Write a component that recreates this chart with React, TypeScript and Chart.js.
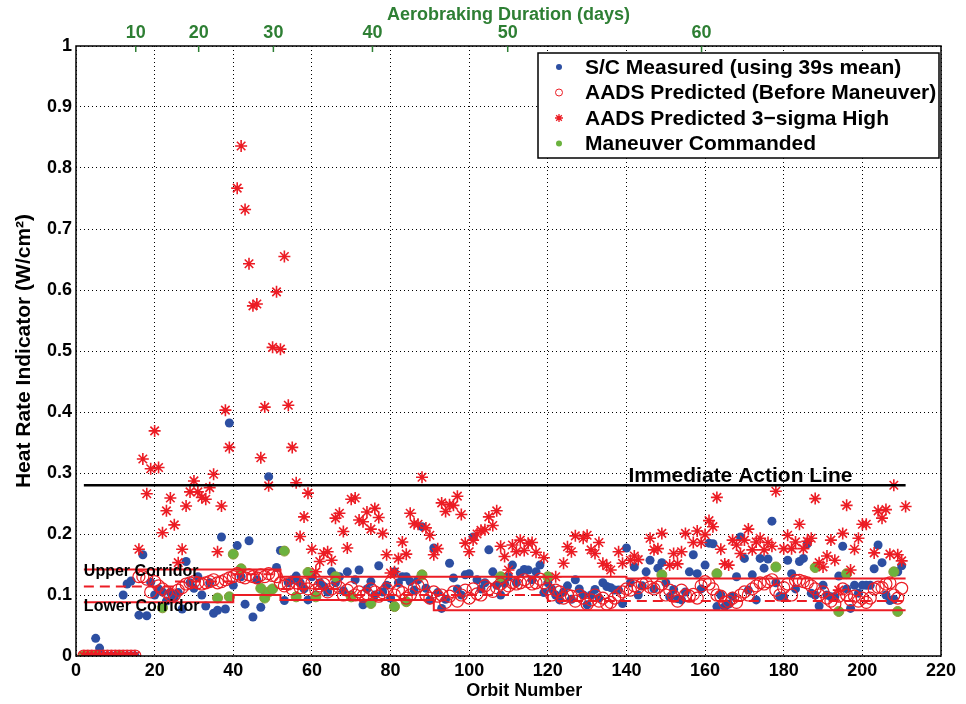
import React, { useEffect, useRef } from "react";
import { Chart, registerables } from "chart.js";

Chart.register(...registerables);

// ---- Data (orbit number, heat rate indicator W/cm^2) ----
const measured: number[][] = [
  [2, 0], [3, 0], [4, 0], [5, 0.029], [6, 0.013], [7, 0], [8, 0], [9, 0], [10, 0], [11, 0], [12, 0], [13, 0], [14, 0], [15, 0],
  [12, 0.1], [13, 0.118], [14, 0.123],
  [16, 0.067], [17, 0.166], [18, 0.066], [19, 0.121], [20, 0.1], [21, 0.11], [22, 0.105], [23, 0.09], [24, 0.104], [25, 0.095],
  [26, 0.104], [27, 0.077], [28, 0.155], [29, 0.12], [30, 0.111], [31, 0.13], [32, 0.1], [33, 0.082], [34, 0.12], [35, 0.07],
  [36, 0.075], [37, 0.195], [38, 0.077], [39, 0.382], [40, 0.116], [41, 0.181], [42, 0.13], [43, 0.085], [44, 0.189], [45, 0.064],
  [46, 0.125], [47, 0.08], [48, 0.098], [49, 0.294], [50, 0.11], [51, 0.145], [52, 0.173], [53, 0.091], [54, 0.12], [55, 0.125],
  [56, 0.131], [57, 0.12], [58, 0.11], [59, 0.092], [60, 0.13], [61, 0.1], [62, 0.12], [63, 0.114], [64, 0.105], [65, 0.138],
  [66, 0.12], [67, 0.13], [68, 0.107], [69, 0.138], [70, 0.1], [71, 0.125], [72, 0.141], [73, 0.084], [74, 0.11], [75, 0.122],
  [76, 0.1], [77, 0.148], [78, 0.105], [79, 0.116], [80, 0.095], [81, 0.138], [82, 0.12], [83, 0.13], [84, 0.13], [85, 0.122],
  [86, 0.108], [87, 0.125], [88, 0.212], [89, 0.111], [90, 0.092], [91, 0.177], [92, 0.104], [93, 0.078], [94, 0.093], [95, 0.152],
  [96, 0.128], [97, 0.11], [98, 0.1], [99, 0.133], [100, 0.135], [101, 0.195], [102, 0.125], [103, 0.11], [104, 0.12], [105, 0.174],
  [106, 0.138], [107, 0.116], [108, 0.1], [109, 0.119], [110, 0.13], [111, 0.149], [112, 0.12], [113, 0.136], [114, 0.142], [115, 0.141],
  [116, 0.125], [117, 0.138], [118, 0.149], [119, 0.104], [120, 0.12], [121, 0.11], [122, 0.1], [123, 0.092], [124, 0.105], [125, 0.115],
  [126, 0.093], [127, 0.125], [128, 0.11], [129, 0.1], [130, 0.084], [131, 0.1], [132, 0.109], [133, 0.095], [134, 0.12], [135, 0.114],
  [136, 0.112], [137, 0.108], [138, 0.108], [139, 0.086], [140, 0.177], [141, 0.12], [142, 0.146], [143, 0.1], [144, 0.115], [145, 0.138],
  [146, 0.157], [147, 0.11], [148, 0.144], [149, 0.153], [150, 0.12], [151, 0.097], [152, 0.109], [153, 0.094], [154, 0.092], [155, 0.105],
  [156, 0.138], [157, 0.166], [158, 0.135], [159, 0.11], [160, 0.149], [161, 0.185], [162, 0.184], [163, 0.081], [164, 0.1], [165, 0.081],
  [166, 0.085], [167, 0.098], [168, 0.13], [169, 0.195], [170, 0.16], [171, 0.108], [172, 0.133], [173, 0.092], [174, 0.16], [175, 0.144],
  [176, 0.159], [177, 0.221], [178, 0.12], [179, 0.098], [180, 0.097], [181, 0.157], [182, 0.135], [183, 0.11], [184, 0.155], [185, 0.16],
  [186, 0.184], [187, 0.103], [188, 0.1], [189, 0.082], [190, 0.116], [191, 0.1], [192, 0.097], [193, 0.097], [194, 0.131], [195, 0.18],
  [196, 0.11], [197, 0.078], [198, 0.116], [199, 0.103], [200, 0.116], [201, 0.116], [202, 0.116], [203, 0.143], [204, 0.182], [205, 0.153],
  [206, 0.1], [207, 0.091], [208, 0.093], [209, 0.138], [210, 0.148],
];

const predicted: number[][] = [
  [2, 0], [3, 0], [4, 0], [5, 0], [6, 0], [7, 0], [8, 0], [9, 0], [10, 0], [11, 0], [12, 0], [13, 0], [14, 0], [15, 0],
  [16, 0.13], [17, 0.13], [18, 0.126], [19, 0.105], [20, 0.122], [21, 0.115], [22, 0.11], [23, 0.105], [24, 0.1], [25, 0.1],
  [26, 0.108], [27, 0.112], [28, 0.118], [29, 0.12], [30, 0.122], [31, 0.12], [32, 0.118], [33, 0.12], [34, 0.122], [35, 0.125],
  [36, 0.12], [37, 0.122], [38, 0.125], [39, 0.128], [40, 0.13], [41, 0.135], [42, 0.13], [43, 0.128], [44, 0.133], [45, 0.13],
  [46, 0.128], [47, 0.133], [48, 0.13], [49, 0.135], [50, 0.132], [51, 0.13], [52, 0.12], [53, 0.115], [54, 0.118], [55, 0.11],
  [56, 0.12], [57, 0.112], [58, 0.118], [59, 0.11], [60, 0.12], [61, 0.108], [62, 0.115], [63, 0.118], [64, 0.105], [65, 0.11],
  [66, 0.12], [67, 0.112], [68, 0.1], [69, 0.108], [70, 0.112], [71, 0.1], [72, 0.105], [73, 0.098], [74, 0.102], [75, 0.11],
  [76, 0.105], [77, 0.098], [78, 0.104], [79, 0.11], [80, 0.12], [81, 0.1], [82, 0.108], [83, 0.104], [84, 0.095], [85, 0.1],
  [86, 0.11], [87, 0.115], [88, 0.118], [89, 0.1], [90, 0.095], [91, 0.105], [92, 0.098], [93, 0.1], [94, 0.088], [95, 0.098],
  [96, 0.105], [97, 0.09], [98, 0.1], [99, 0.108], [100, 0.095], [101, 0.11], [102, 0.102], [103, 0.1], [104, 0.115], [105, 0.11],
  [106, 0.106], [107, 0.112], [108, 0.118], [109, 0.11], [110, 0.115], [111, 0.12], [112, 0.118], [113, 0.12], [114, 0.125], [115, 0.122],
  [116, 0.118], [117, 0.12], [118, 0.126], [119, 0.12], [120, 0.11], [121, 0.1], [122, 0.108], [123, 0.105], [124, 0.095], [125, 0.1],
  [126, 0.098], [127, 0.09], [128, 0.1], [129, 0.095], [130, 0.085], [131, 0.092], [132, 0.1], [133, 0.09], [134, 0.095], [135, 0.085],
  [136, 0.088], [137, 0.095], [138, 0.1], [139, 0.105], [140, 0.11], [141, 0.108], [142, 0.115], [143, 0.112], [144, 0.118], [145, 0.12],
  [146, 0.113], [147, 0.11], [148, 0.113], [149, 0.118], [150, 0.1], [151, 0.108], [152, 0.098], [153, 0.09], [154, 0.108], [155, 0.1],
  [156, 0.098], [157, 0.101], [158, 0.095], [159, 0.115], [160, 0.122], [161, 0.118], [162, 0.11], [163, 0.1], [164, 0.098], [165, 0.088],
  [166, 0.09], [167, 0.095], [168, 0.088], [169, 0.1], [170, 0.105], [171, 0.1], [172, 0.11], [173, 0.115], [174, 0.12], [175, 0.118],
  [176, 0.122], [177, 0.125], [178, 0.108], [179, 0.1], [180, 0.112], [181, 0.118], [182, 0.1], [183, 0.124], [184, 0.124], [185, 0.122],
  [186, 0.12], [187, 0.115], [188, 0.11], [189, 0.1], [190, 0.105], [191, 0.095], [192, 0.09], [193, 0.085], [194, 0.098], [195, 0.11],
  [196, 0.1], [197, 0.092], [198, 0.098], [199, 0.09], [200, 0.095], [201, 0.088], [202, 0.095], [203, 0.11], [204, 0.113], [205, 0.112],
  [206, 0.118], [207, 0.12], [208, 0.1], [209, 0.095], [210, 0.111],
];

const sigmaHigh: number[][] = [
  [2, 0], [3, 0], [4, 0], [5, 0], [6, 0], [7, 0], [8, 0], [9, 0], [10, 0], [11, 0], [12, 0], [13, 0], [14, 0], [15, 0],
  [16, 0.175], [17, 0.323], [18, 0.266], [19, 0.307], [20, 0.369], [21, 0.309], [22, 0.202], [23, 0.238], [24, 0.259], [25, 0.215],
  [26, 0.153], [27, 0.175], [28, 0.246], [29, 0.269], [30, 0.287], [31, 0.269], [32, 0.26], [33, 0.257], [34, 0.276], [35, 0.298],
  [36, 0.171], [37, 0.246], [38, 0.403], [39, 0.342], [41, 0.767], [42, 0.836], [43, 0.732], [44, 0.643], [45, 0.574], [46, 0.577],
  [47, 0.325], [48, 0.408], [49, 0.279], [50, 0.506], [51, 0.597], [52, 0.503], [53, 0.655], [54, 0.411], [55, 0.342], [56, 0.284],
  [57, 0.196], [58, 0.228], [59, 0.267], [60, 0.175], [61, 0.138], [62, 0.155], [63, 0.168], [64, 0.171], [65, 0.157], [66, 0.226],
  [67, 0.234], [68, 0.204], [69, 0.177], [70, 0.257], [71, 0.259], [72, 0.223], [73, 0.22], [74, 0.236], [75, 0.208], [76, 0.242],
  [77, 0.227], [78, 0.201], [79, 0.166], [80, 0.136], [81, 0.138], [82, 0.16], [83, 0.187], [84, 0.167], [85, 0.234], [86, 0.217],
  [87, 0.216], [88, 0.293], [89, 0.21], [90, 0.198], [91, 0.166], [92, 0.176], [93, 0.251], [94, 0.237], [95, 0.248], [96, 0.247],
  [97, 0.262], [98, 0.232], [99, 0.185], [100, 0.171], [101, 0.19], [102, 0.2], [103, 0.206], [104, 0.207], [105, 0.228], [106, 0.214],
  [107, 0.238], [108, 0.18], [109, 0.163], [110, 0.141], [111, 0.182], [112, 0.171], [113, 0.19], [114, 0.173], [115, 0.185], [116, 0.186],
  [117, 0.17], [119, 0.161], [122, 0.13], [124, 0.152], [125, 0.179], [126, 0.171], [127, 0.197], [129, 0.193], [130, 0.198], [131, 0.174],
  [132, 0.168], [133, 0.186], [134, 0.152], [135, 0.148], [136, 0.141], [138, 0.171], [139, 0.152], [141, 0.157], [142, 0.164], [143, 0.158],
  [146, 0.193], [147, 0.174], [148, 0.176], [149, 0.201], [151, 0.149], [152, 0.168], [153, 0.151], [154, 0.171], [155, 0.201], [157, 0.186],
  [158, 0.205], [159, 0.186], [160, 0.199], [161, 0.222], [162, 0.212], [163, 0.26], [164, 0.175], [165, 0.151], [166, 0.149], [167, 0.19],
  [168, 0.182], [169, 0.168], [170, 0.19], [171, 0.208], [172, 0.174], [173, 0.187], [174, 0.193], [175, 0.174], [176, 0.186], [177, 0.18],
  [178, 0.27], [180, 0.176], [181, 0.198], [182, 0.176], [183, 0.187], [184, 0.216], [185, 0.176], [186, 0.188], [187, 0.193], [188, 0.258],
  [189, 0.153], [190, 0.146], [191, 0.164], [192, 0.19], [193, 0.157], [194, 0.108], [195, 0.201], [196, 0.247], [197, 0.141], [198, 0.175],
  [199, 0.193], [200, 0.216], [201, 0.216], [203, 0.169], [204, 0.238], [205, 0.226], [206, 0.24], [207, 0.167], [208, 0.28], [209, 0.166],
  [210, 0.156], [211, 0.245],
];

const maneuvers: number[][] = [
  [2, 0], [4, 0], [5, 0], [11, 0], [22, 0.079], [36, 0.095], [39, 0.097], [40, 0.167], [42, 0.143], [47, 0.111], [48, 0.095],
  [49, 0.105], [50, 0.11], [53, 0.172], [56, 0.097], [59, 0.137], [61, 0.097], [66, 0.13], [70, 0.097], [75, 0.086], [81, 0.081],
  [84, 0.089], [88, 0.133], [108, 0.13], [120, 0.13], [149, 0.133], [163, 0.135], [178, 0.146], [188, 0.145], [194, 0.073],
  [196, 0.135], [208, 0.138], [209, 0.073],
];

// corridor step lines (orbit, value)
const upperCorridorOrbits = [2, 52, 52, 140, 140, 211];
const upperCorridorValues = [0.142, 0.142, 0.13, 0.13, 0.127, 0.127];
const targetOrbits = [2, 25, 25, 40, 40, 52, 52, 68, 68, 120, 120, 211];
const targetValues = [0.114, 0.114, 0.122, 0.122, 0.134, 0.134, 0.11, 0.11, 0.1, 0.1, 0.09, 0.09];
const lowerCorridorOrbits = [2, 40, 40, 52, 52, 91, 91, 211];
const lowerCorridorValues = [0.088, 0.088, 0.1, 0.1, 0.092, 0.092, 0.075, 0.075];
const actionLineOrbits = [2, 211];
const actionLineValues = [0.28, 0.28];

// top axis: aerobraking duration (days) at orbit numbers
const dayTickOrbits = [15.2, 31.2, 50.2, 75.4, 109.8, 159.1];
const dayTickLabels = ["10", "20", "30", "40", "50", "60"];

const legendLabels = [
  "S/C Measured (using 39s mean)",
  "AADS Predicted (Before Maneuver)",
  "AADS Predicted 3\u2212sigma High",
  "Maneuver Commanded",
];

const BLUE = "#2d4fa2";
const RED = "#ec1c24";
const GREEN = "#6bb23e";
const DARKGREEN = "#2e7f34";
const FONT = "'Liberation Sans', Arial, Helvetica, sans-serif";

const toPts = (arr: number[][]) => arr.map(([x, y]) => ({ x, y }));
const zipPts = (xs: number[], ys: number[]) => xs.map((x, i) => ({ x, y: ys[i] }));

function drawStar(ctx: CanvasRenderingContext2D, x: number, y: number, r: number) {
  ctx.beginPath();
  ctx.moveTo(x - r, y); ctx.lineTo(x + r, y);
  ctx.moveTo(x, y - r); ctx.lineTo(x, y + r);
  const d = r * 0.7071;
  ctx.moveTo(x - d, y - d); ctx.lineTo(x + d, y + d);
  ctx.moveTo(x - d, y + d); ctx.lineTo(x + d, y - d);
  ctx.stroke();
}

const decorPlugin = {
  id: "decor",
  afterDraw(chart: any) {
    const { ctx, chartArea: a, scales } = chart;
    const xs = scales.x, ys = scales.y, xt = scales.xTop;
    ctx.save();
    // frame
    ctx.strokeStyle = "#000";
    ctx.lineWidth = 1.5;
    ctx.setLineDash([]);
    ctx.strokeRect(a.left, a.top, a.right - a.left, a.bottom - a.top);
    // green top ticks
    ctx.strokeStyle = DARKGREEN;
    ctx.lineWidth = 1.5;
    dayTickOrbits.forEach((v) => {
      const px = xt.getPixelForValue(v);
      ctx.beginPath();
      ctx.moveTo(px, a.top);
      ctx.lineTo(px, a.top + 6);
      ctx.stroke();
    });
    // bottom axis title
    ctx.fillStyle = "#000";
    ctx.textAlign = "center";
    ctx.textBaseline = "middle";
    ctx.font = `bold 18px ${FONT}`;
    ctx.fillText("Orbit Number", xs.getPixelForValue(114), a.bottom + 35);
    // annotations
    ctx.textBaseline = "alphabetic";
    ctx.textAlign = "left";
    ctx.font = `bold 21px ${FONT}`;
    ctx.fillText("Immediate Action Line", xs.getPixelForValue(140.5), ys.getPixelForValue(0.285));
    ctx.font = `bold 16px ${FONT}`;
    ctx.fillText("Upper Corridor", xs.getPixelForValue(2), ys.getPixelForValue(0.131));
    ctx.fillText("Lower Corridor", xs.getPixelForValue(2), ys.getPixelForValue(0.074));
    // legend
    const lw = 401, lh = 105;
    const lx = a.right - 2 - lw, ly = a.top + 7;
    ctx.fillStyle = "#fff";
    ctx.fillRect(lx, ly, lw, lh);
    ctx.strokeStyle = "#000";
    ctx.lineWidth = 1.5;
    ctx.strokeRect(lx, ly, lw, lh);
    ctx.font = `bold 21px ${FONT}`;
    ctx.textBaseline = "middle";
    legendLabels.forEach((label, i) => {
      const cy = ly + 14 + i * 25.5;
      const mx = lx + 21;
      ctx.lineWidth = 1;
      if (i === 0 || i === 3) {
        ctx.fillStyle = i === 0 ? BLUE : GREEN;
        ctx.beginPath();
        ctx.arc(mx, cy, 3, 0, Math.PI * 2);
        ctx.fill();
      } else if (i === 1) {
        ctx.strokeStyle = RED;
        ctx.beginPath();
        ctx.arc(mx, cy, 3.5, 0, Math.PI * 2);
        ctx.stroke();
      } else {
        ctx.strokeStyle = RED;
        ctx.lineWidth = 1.3;
        drawStar(ctx, mx, cy, 4);
      }
      ctx.fillStyle = "#000";
      ctx.fillText(label, lx + 47, cy + 1);
    });
    ctx.restore();
  },
};

export default function App() {
  const ref = useRef<HTMLCanvasElement>(null);
  useEffect(() => {
    if (!ref.current) return;
    Chart.defaults.font.family = FONT;
    const lineDs = (label: string, xs: number[], ys: number[], color: string, width: number, dash: number[] = []) => ({
      label,
      data: zipPts(xs, ys),
      showLine: true,
      borderColor: color,
      borderWidth: width,
      borderDash: dash,
      pointRadius: 0,
      fill: false,
      order: 0,
    });
    const chart = new Chart(ref.current, {
      type: "scatter",
      data: {
        datasets: [
          lineDs("Immediate Action Line", actionLineOrbits, actionLineValues, "#000", 2.5),
          lineDs("Upper Corridor", upperCorridorOrbits, upperCorridorValues, RED, 2),
          lineDs("Target", targetOrbits, targetValues, RED, 2, [10, 6]),
          lineDs("Lower Corridor", lowerCorridorOrbits, lowerCorridorValues, RED, 2),
          {
            label: legendLabels[2],
            data: toPts(sigmaHigh),
            pointStyle: "star",
            pointRadius: 6,
            borderColor: RED,
            backgroundColor: RED,
            borderWidth: 1.6,
            order: 1,
          },
          {
            label: legendLabels[1],
            data: toPts(predicted),
            pointStyle: "circle",
            pointRadius: 6,
            borderColor: RED,
            backgroundColor: "rgba(0,0,0,0)",
            borderWidth: 1.2,
            order: 2,
          },
          {
            label: legendLabels[3],
            data: toPts(maneuvers),
            pointStyle: "circle",
            pointRadius: 5,
            borderColor: "#8a9a36",
            backgroundColor: GREEN,
            borderWidth: 1,
            order: 3,
          },
          {
            label: legendLabels[0],
            data: toPts(measured),
            pointStyle: "circle",
            pointRadius: 4.5,
            borderColor: BLUE,
            backgroundColor: BLUE,
            borderWidth: 0,
            order: 4,
          },
        ],
      },
      options: {
        responsive: false,
        animation: false,
        events: [],
        layout: { padding: { left: 0, right: 25, top: 0, bottom: 0 } },
        plugins: { legend: { display: false }, tooltip: { enabled: false } },
        scales: {
          x: {
            type: "linear",
            position: "bottom",
            min: 0,
            max: 220,
            afterFit: (s: any) => { s.height = 48; },
            ticks: { stepSize: 20, color: "#000", font: { size: 18, weight: "bold" }, padding: 4, maxRotation: 0, autoSkip: false },
            grid: { color: "#000", lineWidth: 1, drawTicks: false },
            border: { display: false, dash: [1, 3] },
            title: { display: false, text: "Orbit Number" },
          },
          xTop: {
            type: "linear",
            position: "top",
            min: 0,
            max: 220,
            afterFit: (s: any) => { s.height = 46; },
            afterBuildTicks: (s: any) => { s.ticks = dayTickOrbits.map((v) => ({ value: v })); },
            ticks: {
              color: DARKGREEN,
              font: { size: 18, weight: "bold" },
              padding: 2,
              maxRotation: 0,
              autoSkip: false,
              callback: (_v: any, i: number) => dayTickLabels[i],
            },
            grid: { display: false, drawOnChartArea: false, drawTicks: false },
            border: { display: false },
            title: { display: true, text: "Aerobraking Duration (days)", color: DARKGREEN, font: { size: 18, weight: "bold" }, padding: { top: 4, bottom: 0 } },
          },
          y: {
            type: "linear",
            position: "left",
            min: 0,
            max: 1,
            afterFit: (s: any) => { s.width = 76; },
            ticks: {
              stepSize: 0.1,
              color: "#000",
              font: { size: 18, weight: "bold" },
              padding: 4,
              callback: (v: any) => (v === 0 ? "0" : v === 1 ? "1" : Number(v).toFixed(1)),
            },
            grid: { color: "#000", lineWidth: 1, drawTicks: false },
            border: { display: false, dash: [1, 3] },
            title: { display: true, text: "Heat Rate Indicator (W/cm\u00B2)", color: "#000", font: { size: 21, weight: "bold" }, padding: { top: 12, bottom: 0 } },
          },
        },
      } as any,
      plugins: [decorPlugin],
    });
    return () => chart.destroy();
  }, []);
  return (
    <div style={{ position: "fixed", left: 0, top: 0, width: 966, height: 704, background: "#fff" }}>
      <canvas ref={ref} width={966} height={704} style={{ display: "block", width: 966, height: 704 }} />
    </div>
  );
}
